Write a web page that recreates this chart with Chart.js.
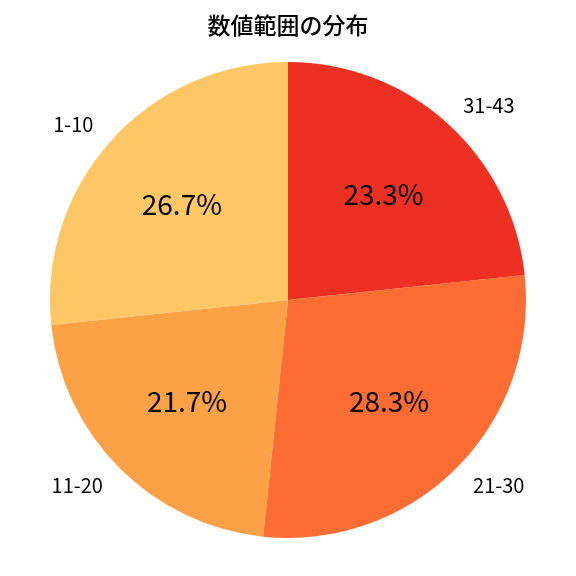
<!DOCTYPE html>
<html>
<head>
<meta charset="utf-8">
<script src="https://cdn.jsdelivr.net/npm/chart.js@4"></script>
<style>
html,body{margin:0;padding:0;background:#fff;}
#wrap{width:576px;height:576px;}
</style>
</head>
<body>
<div id="wrap"><canvas id="c" width="576" height="576"></canvas></div>
<script>
const titleText = '数値範囲の分布';
const categories = ['1-10', '11-20', '21-30', '31-43'];
const counts = [16, 13, 17, 14];
const colors = ['#FDC765', '#FCA146', '#FD6C33', '#EE3023'];

// Chart.js draws clockwise; the reference goes counter-clockwise from the top.
const drawLabels = categories.slice().reverse();
const drawValues = counts.slice().reverse();
const drawColors = colors.slice().reverse();
const total = counts.reduce((a, b) => a + b, 0);
const FONT = "'Noto Sans CJK JP', 'Noto Sans', sans-serif";

const labelPlugin = {
  id: 'pieLabels',
  afterDatasetsDraw(chart) {
    const ctx = chart.ctx;
    const meta = chart.getDatasetMeta(0);
    ctx.save();
    meta.data.forEach((arc, i) => {
      const p = arc.getProps(['x', 'y', 'startAngle', 'endAngle', 'outerRadius'], true);
      const mid = (p.startAngle + p.endAngle) / 2;
      const cx = Math.cos(mid), cy = Math.sin(mid);
      // percent
      const pct = (drawValues[i] / total * 100).toFixed(1) + '%';
      ctx.fillStyle = '#000';
      ctx.font = '28px ' + FONT;
      ctx.textAlign = 'center';
      ctx.textBaseline = 'middle';
      ctx.fillText(pct, p.x + cx * p.outerRadius * 0.6, p.y + cy * p.outerRadius * 0.6);
      // category label
      const lx = p.x + cx * p.outerRadius * 1.1;
      const ly = p.y + cy * p.outerRadius * 1.1;
      ctx.font = '20px ' + FONT;
      ctx.textAlign = cx >= 0 ? 'left' : 'right';
      ctx.fillText(drawLabels[i], lx, ly);
    });
    // title
    ctx.font = '500 23px ' + FONT;
    ctx.textAlign = 'center';
    ctx.textBaseline = 'middle';
    ctx.fillText(titleText, 288, 25);
    ctx.restore();
  }
};

new Chart(document.getElementById('c'), {
  type: 'pie',
  data: {
    labels: drawLabels,
    datasets: [{
      data: drawValues,
      backgroundColor: drawColors,
      borderWidth: 0
    }]
  },
  options: {
    responsive: false,
    animation: false,
    devicePixelRatio: 1,
    layout: { padding: { top: 62, bottom: 38, left: 50, right: 50 } },
    plugins: {
      legend: { display: false },
      title: { display: false },
      tooltip: { enabled: false }
    }
  },
  plugins: [labelPlugin]
});
</script>
</body>
</html>
